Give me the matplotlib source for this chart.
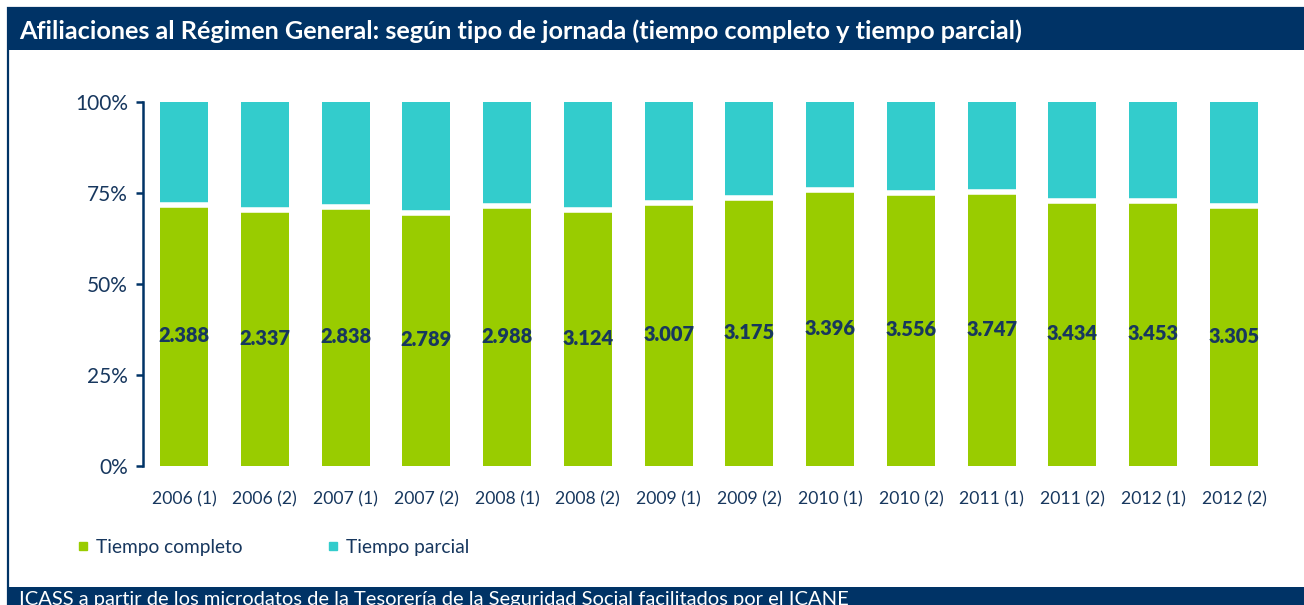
import matplotlib
matplotlib.use("Agg")
import matplotlib.pyplot as plt
from matplotlib.patches import Rectangle
from matplotlib.lines import Line2D
import numpy as np

plt.rcParams.update({
    "font.family": ["Lato", "DejaVu Sans"],
})

NAVY = "#003366"
TEXT = "#17375E"
GREEN = "#99CC00"
CYAN = "#33CCCC"

periodos = ["2006 (1)", "2006 (2)", "2007 (1)", "2007 (2)", "2008 (1)", "2008 (2)", "2009 (1)",
            "2009 (2)", "2010 (1)", "2010 (2)", "2011 (1)", "2011 (2)", "2012 (1)", "2012 (2)"]
# cuota de tiempo completo
completo_pct = [0.717, 0.704, 0.712, 0.695, 0.714, 0.703, 0.723,
                0.737, 0.758, 0.751, 0.754, 0.728, 0.728, 0.715]
completo_n = [2388, 2337, 2838, 2789, 2988, 3124, 3007,
              3175, 3396, 3556, 3747, 3434, 3453, 3305]

W, H = 1304, 605
fig = plt.figure(figsize=(W / 100, H / 100), dpi=100)

# ── marco, cabecera y pie ─────────────────────────
fig.patches.append(Rectangle((8 / W, -0.01), 1.02, 1 - 8 / H + 0.01, transform=fig.transFigure,
                             facecolor="none", edgecolor=NAVY, lw=1.6, zorder=0))
fig.patches.append(Rectangle((8 / W, 1 - 50 / H), 1.0, 42 / H, transform=fig.transFigure,
                             facecolor=NAVY, edgecolor="none", zorder=1))
fig.patches.append(Rectangle((8 / W, 0), 1.0, 18 / H, transform=fig.transFigure,
                             facecolor=NAVY, edgecolor="none", zorder=1))
fig.text(19 / W, 1 - 31 / H,
         "Afiliaciones al Régimen General: según tipo de jornada (tiempo completo y tiempo parcial)",
         color="white", fontsize=18.2, fontweight="bold", va="center", ha="left")
# el pie queda recortado por el borde inferior, como en el original
fig.text(19 / W, 1 - 591 / H,
         "ICASS a partir de los microdatos de la Tesorería de la Seguridad Social facilitados por el ICANE",
         color="white", fontsize=14.5, va="top", ha="left")

# ── gráfico ───────────────────────────────────────
ax = fig.add_axes([143.3 / W, 1 - 466.3 / H, (1274.7 - 143.3) / W, (466.3 - 102.3) / H])
x = np.arange(len(periodos))
comp = np.array(completo_pct)
w = 0.594
ax.bar(x, comp, w, color=GREEN, lw=0)
ax.bar(x, 1 - comp, w, bottom=comp, color=CYAN, lw=0)
ax.hlines(comp, x - w / 2 - 0.02, x + w / 2 + 0.02, color="white", lw=4)

for xi, p, n in zip(x, comp, completo_n):
    ax.text(xi, p / 2, f"{n:,}".replace(",", "."), ha="center", va="center",
            fontsize=14.4, fontweight="heavy", color=TEXT)

ax.set_xlim(-0.504, len(periodos) - 1 + 0.504)
ax.set_ylim(0, 1)
ax.set_yticks([0, 0.25, 0.5, 0.75, 1.0])
ax.set_yticklabels(["0%", "25%", "50%", "75%", "100%"])
ax.set_xticks(x)
ax.set_xticklabels(periodos)
for s in ["top", "right", "bottom"]:
    ax.spines[s].set_visible(False)
ax.spines["left"].set_color(NAVY)
ax.spines["left"].set_linewidth(1.8)
ax.tick_params(axis="y", colors=NAVY, length=5, width=1.8, labelsize=15, labelcolor=TEXT, pad=6)
ax.tick_params(axis="x", length=0, labelsize=12.7, labelcolor=TEXT, pad=18)

handles = [Line2D([], [], marker="s", ls="none", color=GREEN, markersize=5.5),
           Line2D([], [], marker="s", ls="none", color=CYAN, markersize=5.5)]
fig.legend(handles, ["Tiempo completo", "Tiempo parcial"], loc="center left",
           bbox_to_anchor=(60 / W, 1 - 547 / H), ncol=2, frameon=False,
           fontsize=13.8, labelcolor=TEXT, handlelength=0.6, handletextpad=0.4,
           columnspacing=4.4)

fig.savefig("out.png", dpi=100)
